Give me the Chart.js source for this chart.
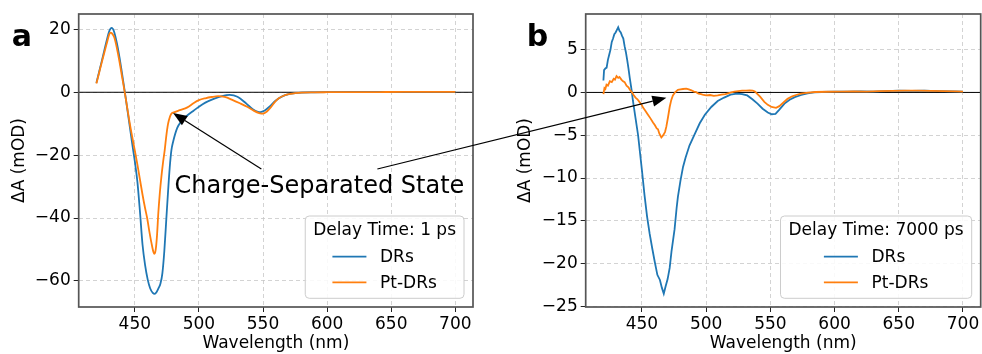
<!DOCTYPE html>
<html>
<head>
<meta charset="utf-8">
<script src="https://cdn.jsdelivr.net/npm/chart.js@4.4.1/dist/chart.umd.min.js"></script>
<style>
  html, body { margin: 0; padding: 0; background: #fff; }
  #wrap { position: relative; width: 982px; height: 354px; overflow: hidden; }
  #wrap canvas { position: absolute; top: 0; }
  #cA { left: 0; }
  #cB { left: 491px; }
  #ov { left: 0; pointer-events: none; }
</style>
</head>
<body>
<div id="wrap">
  <canvas id="cA" width="491" height="354"></canvas>
  <canvas id="cB" width="491" height="354"></canvas>
  <canvas id="ov" width="982" height="354"></canvas>
</div>
<script>
// ---------- Panel a: delay time 1 ps ----------
const aDRsNm = [420,422,424,426,428,430,431,432,433,434,436,438,440,442,444,446,448,450,452,454,456,458,460,462,464,465.5,467,468.5,470,471.5,473,474.6,476,477.2,478.5,480,483,486,490,496,500,505,512,518,524,530,537,542,546,548,551,555,560,565,570,575,580,590,600,620,640,660,680,700];
const aDRs   = [3.0,6.3,9.6,13.0,16.4,19.4,20.2,20.5,20.1,19.0,15.6,11.2,6.0,0.6,-5.0,-10.8,-16.5,-22.0,-28.5,-38.0,-48.5,-55.0,-59.5,-62.4,-63.8,-64.1,-63.5,-62.3,-60.8,-57.5,-50.5,-40.0,-31.0,-24.0,-18.5,-15.5,-11.4,-9.4,-7.7,-5.8,-4.6,-3.3,-2.0,-1.2,-0.85,-1.4,-3.6,-5.4,-6.2,-6.3,-5.9,-4.6,-2.6,-1.3,-0.6,-0.3,-0.1,0.0,0.05,0.1,0.12,0.15,0.15,0.15];

const aPtNm = [420,422,424,426,428,430,431,432,434,436,438,440,442,444,446,448,450,452,454,456,458,459.6,461,463,464.5,465.3,466.3,467.3,468.3,469.5,470.7,472,473.3,474.5,475.5,476.5,478.2,481,485,491,496,500,505,510,515,520,526,532,538,543,547,550,553,556,559,562,566,570,575,580,590,600,620,640,660,680,700];
const aPt   = [2.8,6.0,9.2,12.3,15.4,18.4,19.0,18.8,17.4,14.0,9.8,5.0,0.3,-4.8,-9.8,-14.3,-18.6,-23.0,-27.8,-32.6,-36.9,-40.0,-43.5,-48.0,-50.8,-51.4,-50.0,-45.5,-38.5,-32.0,-26.9,-22.3,-18.4,-14.0,-11.0,-9.0,-7.0,-6.3,-5.7,-4.8,-3.4,-2.5,-1.9,-1.5,-1.25,-1.5,-2.4,-3.5,-4.7,-5.9,-6.6,-6.8,-6.1,-4.8,-3.2,-2.0,-1.1,-0.6,-0.3,-0.1,0.0,0.02,0.05,0.08,0.1,0.1,0.1];

// ---------- Panel b: delay time 7000 ps ----------
const bDRsNm = [420,420.5,421.5,422.5,423.5,424.5,425.5,426.5,427.5,428.5,429.5,430.5,431.5,432.5,433.5,434.5,435.5,436.5,437.5,438.5,439.5,440.5,442,443,445,447,450,452,454,456,458,460,462,464,465.5,467,468.5,470,471.6,473,475.4,477,478,480,482,484,487,491,495,499,504,509,514,519,524,528,532,536,540,544,548,551,554,557,561,565,569,574,579,584,590,600,610,620,630,640,650,660,670,680,690,700];
const bDRs   = [1.4,2.6,2.8,2.9,3.8,4.4,5.0,5.9,6.3,6.8,7.0,7.3,7.6,7.2,7.0,6.6,6.3,5.4,4.7,3.8,2.8,1.7,0.2,-1.0,-3.0,-5.0,-9.1,-12.0,-14.5,-16.5,-18.2,-19.8,-21.3,-21.9,-22.8,-23.5,-22.6,-21.8,-20.5,-18.6,-16.0,-13.5,-12.2,-10.3,-8.7,-7.6,-6.2,-4.9,-3.6,-2.6,-1.7,-1.0,-0.6,-0.25,-0.15,-0.2,-0.35,-0.8,-1.3,-1.9,-2.35,-2.55,-2.5,-2.0,-1.3,-0.85,-0.55,-0.3,-0.1,0.0,0.05,0.1,0.1,0.12,0.1,0.15,0.2,0.18,0.2,0.15,0.12,0.1];

const bPtNm = [420,420.8,421.5,422.4,423.5,425,426.5,428,429,430.2,431.5,432.5,434,435.3,436.5,438,439.5,440.5,442,443.5,445,446.5,448,449.6,451,452.5,454.7,456.5,458.6,460,461.5,462.5,463.5,465.1,466,467,468,469,470.3,471.6,472.8,474.1,476,478,480,482,484.5,486.5,488.5,490.5,492.3,494,496,498,500,503,506,509,512,515,517,519.5,522,525,528,531,534,536.2,538,540,542,545.3,548,551,554.4,557,560,563.4,567,570,573.8,578,585,595,605,615,625,635,645,655,665,675,685,695,700];
const bPt   = [-0.2,0.5,0.4,0.9,0.8,1.3,1.2,1.6,1.5,1.9,1.7,1.8,1.5,1.3,1.2,0.8,0.6,0.35,0.05,-0.3,-0.6,-0.8,-1.1,-1.4,-1.8,-2.1,-2.6,-3.0,-3.5,-3.8,-4.2,-4.3,-4.8,-5.25,-5.1,-4.9,-4.6,-4.0,-2.9,-1.7,-0.9,-0.35,0.05,0.3,0.35,0.4,0.45,0.35,0.25,0.1,0.03,-0.15,-0.2,-0.3,-0.35,-0.3,-0.4,-0.35,-0.25,-0.2,-0.1,0.0,0.1,0.15,0.2,0.22,0.25,0.22,0.1,-0.2,-0.5,-1.1,-1.45,-1.7,-1.8,-1.6,-1.2,-0.75,-0.45,-0.3,-0.15,-0.05,0.05,0.08,0.1,0.12,0.1,0.15,0.18,0.2,0.22,0.18,0.15,0.12,0.1];

// ---------- Axis ticks and text ----------
const xTicks  = [450, 500, 550, 600, 650, 700];
const aYTicks = [-60, -40, -20, 0, 20];
const bYTicks = [-25, -20, -15, -10, -5, 0, 5];
const seriesNames = ['DRs', 'Pt-DRs'];
const legendTitleA = 'Delay Time: 1 ps';
const legendTitleB = 'Delay Time: 7000 ps';
const xTitle = 'Wavelength (nm)';
const yTitle = 'ΔA (mOD)';
const calloutText = 'Charge-Separated State';

const BLUE = '#1f77b4', ORANGE = '#ff7f0e';
const FONT = "'DejaVu Sans', sans-serif";
Chart.defaults.font.family = FONT;

const pairs = (xs, ys) => xs.map((x, i) => ({ x, y: ys[i] }));
const minusSign = v => String(v).replace('-', '\u2212');

// zero line under the curves, frame and boxed legend on top
const axesDecor = {
  id: 'axesDecor',
  beforeDatasetsDraw(chart) {
    const { ctx, chartArea: a, scales: { y } } = chart;
    const y0 = y.getPixelForValue(0);
    ctx.save();
    ctx.strokeStyle = '#000';
    ctx.lineWidth = 1;
    ctx.beginPath();
    ctx.moveTo(a.left, y0);
    ctx.lineTo(a.right, y0);
    ctx.stroke();
    ctx.restore();
  },
  afterDraw(chart, args, opts) {
    const { ctx, chartArea: a } = chart;
    ctx.save();
    // frame
    ctx.strokeStyle = '#555555';
    ctx.lineWidth = 1.7;
    ctx.strokeRect(a.left, a.top, a.right - a.left, a.bottom - a.top);

    // legend
    const fs = 17;
    ctx.font = fs + 'px ' + FONT;
    const titleW = ctx.measureText(opts.title).width;
    const handleLen = 34, handlePad = 13.6;
    const ds = chart.data.datasets;
    const entryW = Math.max(...ds.map(d => ctx.measureText(d.label).width)) + handleLen + handlePad;
    const boxW = Math.max(titleW, entryW) + 16;
    const boxH = 82.3;
    const right = a.right - 9, bottom = a.bottom - 8.7;
    const left = right - boxW, top = bottom - boxH;
    ctx.beginPath();
    ctx.roundRect(left, top, boxW, boxH, 4);
    ctx.fillStyle = 'rgba(255,255,255,0.85)';
    ctx.fill();
    ctx.strokeStyle = '#cccccc';
    ctx.lineWidth = 1;
    ctx.stroke();

    const cx = (left + right) / 2;
    ctx.fillStyle = '#000';
    ctx.textBaseline = 'middle';
    ctx.textAlign = 'center';
    ctx.fillText(opts.title, cx, top + 15);
    const ex = cx - entryW / 2;
    ctx.textAlign = 'left';
    ds.forEach((d, i) => {
      const ey = top + 40.7 + i * 25.6;
      ctx.strokeStyle = d.borderColor;
      ctx.lineWidth = 1.8;
      ctx.beginPath();
      ctx.moveTo(ex, ey);
      ctx.lineTo(ex + handleLen, ey);
      ctx.stroke();
      ctx.fillStyle = '#000';
      ctx.fillText(d.label, ex + handleLen + handlePad, ey + 1);
    });
    ctx.restore();
  }
};

function makeChart(canvasId, dataA, dataB, yMin, yMax, yTicks, yWidth, rightPad, titlePad, legendTitle, smooth) {
  const lineDs = (label, data, color, order) => ({
    label, data, borderColor: color, backgroundColor: color,
    borderWidth: 1.8, pointRadius: 0, fill: false, order,
    cubicInterpolationMode: smooth ? 'monotone' : 'default', tension: 0
  });
  return new Chart(document.getElementById(canvasId), {
    type: 'line',
    data: {
      datasets: [
        lineDs(seriesNames[0], dataA, BLUE, 2),
        lineDs(seriesNames[1], dataB, ORANGE, 1)
      ]
    },
    options: {
      responsive: false,
      animation: false,
      devicePixelRatio: 1,
      layout: { padding: { top: 14, right: rightPad, bottom: 0, left: 0 } },
      plugins: {
        legend: { display: false },
        tooltip: { enabled: false },
        axesDecor: { title: legendTitle }
      },
      scales: {
        x: {
          type: 'linear', min: 406.2, max: 713.8,
          afterBuildTicks: s => { s.ticks = xTicks.map(v => ({ value: v })); },
          afterFit: s => { s.height = 47; },
          grid: { color: '#c8c8c8', lineWidth: 0.8, tickColor: '#222', tickWidth: 1, tickLength: 5 },
          border: { display: false, dash: [4, 3] },
          ticks: { color: '#000', font: { size: 17 }, padding: 2, maxRotation: 0, callback: v => minusSign(v) },
          title: { display: true, text: xTitle, color: '#000', font: { size: 17 }, padding: { top: 0, bottom: 0 } }
        },
        y: {
          type: 'linear', min: yMin, max: yMax,
          afterBuildTicks: s => { s.ticks = yTicks.map(v => ({ value: v })); },
          afterFit: s => { s.width = yWidth; },
          grid: { color: '#c8c8c8', lineWidth: 0.8, tickColor: '#222', tickWidth: 1, tickLength: 5 },
          border: { display: false, dash: [4, 3] },
          ticks: { color: '#000', font: { size: 17 }, padding: 3, callback: v => minusSign(v) },
          title: { display: true, text: yTitle, color: '#000', font: { size: 17 }, padding: { top: titlePad, bottom: 0 } }
        }
      }
    },
    plugins: [axesDecor]
  });
}

const chartA = makeChart('cA', pairs(aDRsNm, aDRs), pairs(aPtNm, aPt), -68.3, 24.9, aYTicks, 78.7, 18, 9.3, legendTitleA, true);
const chartB = makeChart('cB', pairs(bDRsNm, bDRs), pairs(bPtNm, bPt), -25.06, 9.16, bYTicks, 94.7, 1.3, 24.8, legendTitleB, false);

// ---------- callout with two arrows, panel letters ----------
const calloutAt = { x: 594, y: -32 };          // panel a data coords (text baseline centre)
const arrowA = { from: { x: 548.7, y: -24.4 }, to: { x: 479.8, y: -6.6 } };   // both in panel a
const arrowB = { from: { x: 639.2, y: -24.4 }, to: { x: 469, y: -0.62 } };    // from panel a to panel b

(function drawOverlay() {
  const ctx = document.getElementById('ov').getContext('2d');
  const offB = 491;
  const pA = p => [chartA.scales.x.getPixelForValue(p.x), chartA.scales.y.getPixelForValue(p.y)];
  const pB = p => [offB + chartB.scales.x.getPixelForValue(p.x), chartB.scales.y.getPixelForValue(p.y)];

  function arrow(p0, p1) {
    const [x0, y0] = p0, [x1, y1] = p1;
    const ang = Math.atan2(y1 - y0, x1 - x0);
    const hl = 14, hw = 5.5;
    const bx = x1 - hl * Math.cos(ang), by = y1 - hl * Math.sin(ang);
    ctx.strokeStyle = '#000';
    ctx.fillStyle = '#000';
    ctx.lineWidth = 1.2;
    ctx.beginPath();
    ctx.moveTo(x0, y0);
    ctx.lineTo(bx, by);
    ctx.stroke();
    ctx.beginPath();
    ctx.moveTo(x1, y1);
    ctx.lineTo(bx - hw * Math.sin(ang), by + hw * Math.cos(ang));
    ctx.lineTo(bx + hw * Math.sin(ang), by - hw * Math.cos(ang));
    ctx.closePath();
    ctx.fill();
  }
  arrow(pA(arrowA.from), pA(arrowA.to));
  arrow(pA(arrowB.from), pB(arrowB.to));

  const [tx, ty] = pA(calloutAt);
  ctx.font = '24px ' + FONT;
  ctx.fillStyle = '#000';
  ctx.textAlign = 'center';
  ctx.textBaseline = 'alphabetic';
  ctx.fillText(calloutText, tx, ty);

  ctx.font = 'bold 30px ' + FONT;
  ctx.textAlign = 'left';
  ctx.fillText('a', 11.7, 46);
  ctx.fillText('b', 526.7, 46);
})();
</script>
</body>
</html>
